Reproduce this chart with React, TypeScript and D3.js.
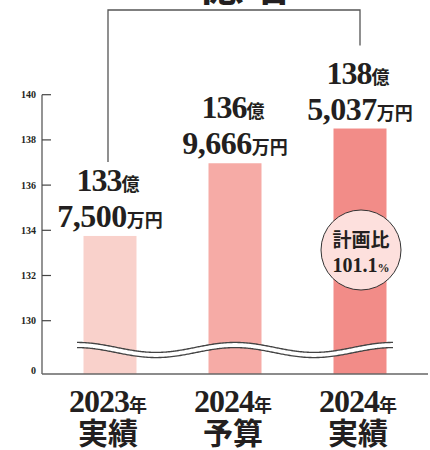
import React from 'react'
import * as d3 from 'd3'

// chart values
const years = ['2023', '2024', '2024']
const kinds = ['実績', '予算', '実績']
const values = [133.75, 136.9666, 138.5037]
const okuLabels = ['133', '136', '138']
const manLabels = ['7,500', '9,666', '5,037']
const barColors = ['#f9d1cb', '#f6aba6', '#f28c88']
const yTicks = [130, 132, 134, 136, 138, 140]
const ratioLabel = '101.1'
const titleText = '4億増'

const W = 430
const H = 450
const baseY = 374
const axisX = 42
const barWidth = 53

const serif = "'Liberation Serif', 'Noto Sans CJK JP', serif"
const ink = '#231f20'

export default function App() {
    const x = d3.scalePoint<number>()
        .domain(values.map((_, i) => i))
        .range([110, 360])

    const y = d3.scaleLinear()
        .domain([130, 140])
        .range([320.7, 94.7])

    // wavy break marker across the bars
    const wavePts: [number, number][] = d3.range(77, 394, 2).map(px => [px, 350 - 5 * Math.cos((px - 77) / 158 * 2 * Math.PI)])
    const wave = d3.line().curve(d3.curveBasis)(wavePts) || ''

    const leftX = (x(0) as number) - 2
    const rightX = x(2) as number
    const bracket = `M${leftX},${y(values[0]) - 74} V10 H${rightX} V${y(values[2]) - 83}`

    return (
        <svg width={W} height={H} style={{ position: 'absolute', left: 0, top: 0, background: '#fff' }}>
            {/* title, cut off by the top edge as in the source */}
            <text x={232} y={0} textAnchor="middle" fontFamily={serif} fontWeight="bold" fontSize={46} fill={ink}>{titleText}</text>
            <path d={bracket} fill="none" stroke="#555" strokeWidth={1.3} />

            {/* bars */}
            {values.map((v, i) => (
                <rect key={`bar-${i}`} x={(x(i) as number) - barWidth / 2} y={y(v)} width={barWidth} height={baseY - y(v)} fill={barColors[i]} />
            ))}

            {/* break */}
            <path d={wave} fill="none" stroke="#444" strokeWidth={6.5} />
            <path d={wave} fill="none" stroke="#fff" strokeWidth={3.8} />

            {/* axes */}
            <line x1={axisX} x2={axisX} y1={y(140)} y2={baseY} stroke="#666" strokeWidth={1.4} />
            <line x1={axisX} x2={428} y1={baseY} y2={baseY} stroke="#666" strokeWidth={1.4} />
            {yTicks.map(t => (
                <g key={`tick-${t}`}>
                    <line x1={axisX} x2={axisX + 9} y1={y(t)} y2={y(t)} stroke="#444" strokeWidth={1.2} />
                    <text x={36} y={y(t) + 3.5} textAnchor="end" fontFamily={serif} fontWeight="bold" fontSize={10} fill={ink}>{t}</text>
                </g>
            ))}
            <text x={36} y={374} textAnchor="end" fontFamily={serif} fontWeight="bold" fontSize={10} fill={ink}>0</text>

            {/* value labels */}
            {values.map((v, i) => (
                <g key={`lbl-${i}`} fontFamily={serif} fontWeight="bold" fill={ink}>
                    <text x={(x(i) as number) - 2} y={y(v) - 45} textAnchor="middle">
                        <tspan fontSize={32} letterSpacing={-1}>{okuLabels[i]}</tspan>
                        <tspan fontSize={18}>億</tspan>
                    </text>
                    <text x={x(i) as number} y={y(v) - 9} textAnchor="middle">
                        <tspan fontSize={32} letterSpacing={-0.5}>{manLabels[i]}</tspan>
                        <tspan fontSize={18}>万円</tspan>
                    </text>
                </g>
            ))}

            {/* plan ratio badge */}
            <circle cx={361} cy={250} r={40} fill="#fde0dd" stroke="#333" strokeWidth={1} />
            <text x={361} y={247} textAnchor="middle" fontFamily={serif} fontWeight="bold" fontSize={19} fill={ink}>計画比</text>
            <text x={361} y={272} textAnchor="middle" fontFamily={serif} fontWeight="bold" fill={ink}>
                <tspan fontSize={20}>{ratioLabel}</tspan>
                <tspan fontSize={12}>%</tspan>
            </text>

            {/* category labels */}
            {years.map((yr, i) => (
                <g key={`cat-${i}`} fontFamily={serif} fontWeight="bold" fill={ink}>
                    <text x={(x(i) as number) - 2} y={412} textAnchor="middle">
                        <tspan fontSize={32} letterSpacing={-1}>{yr}</tspan>
                        <tspan fontSize={18}>年</tspan>
                    </text>
                    <text x={(x(i) as number) - 2} y={444} textAnchor="middle" fontSize={30}>{kinds[i]}</text>
                </g>
            ))}
        </svg>
    )
}
